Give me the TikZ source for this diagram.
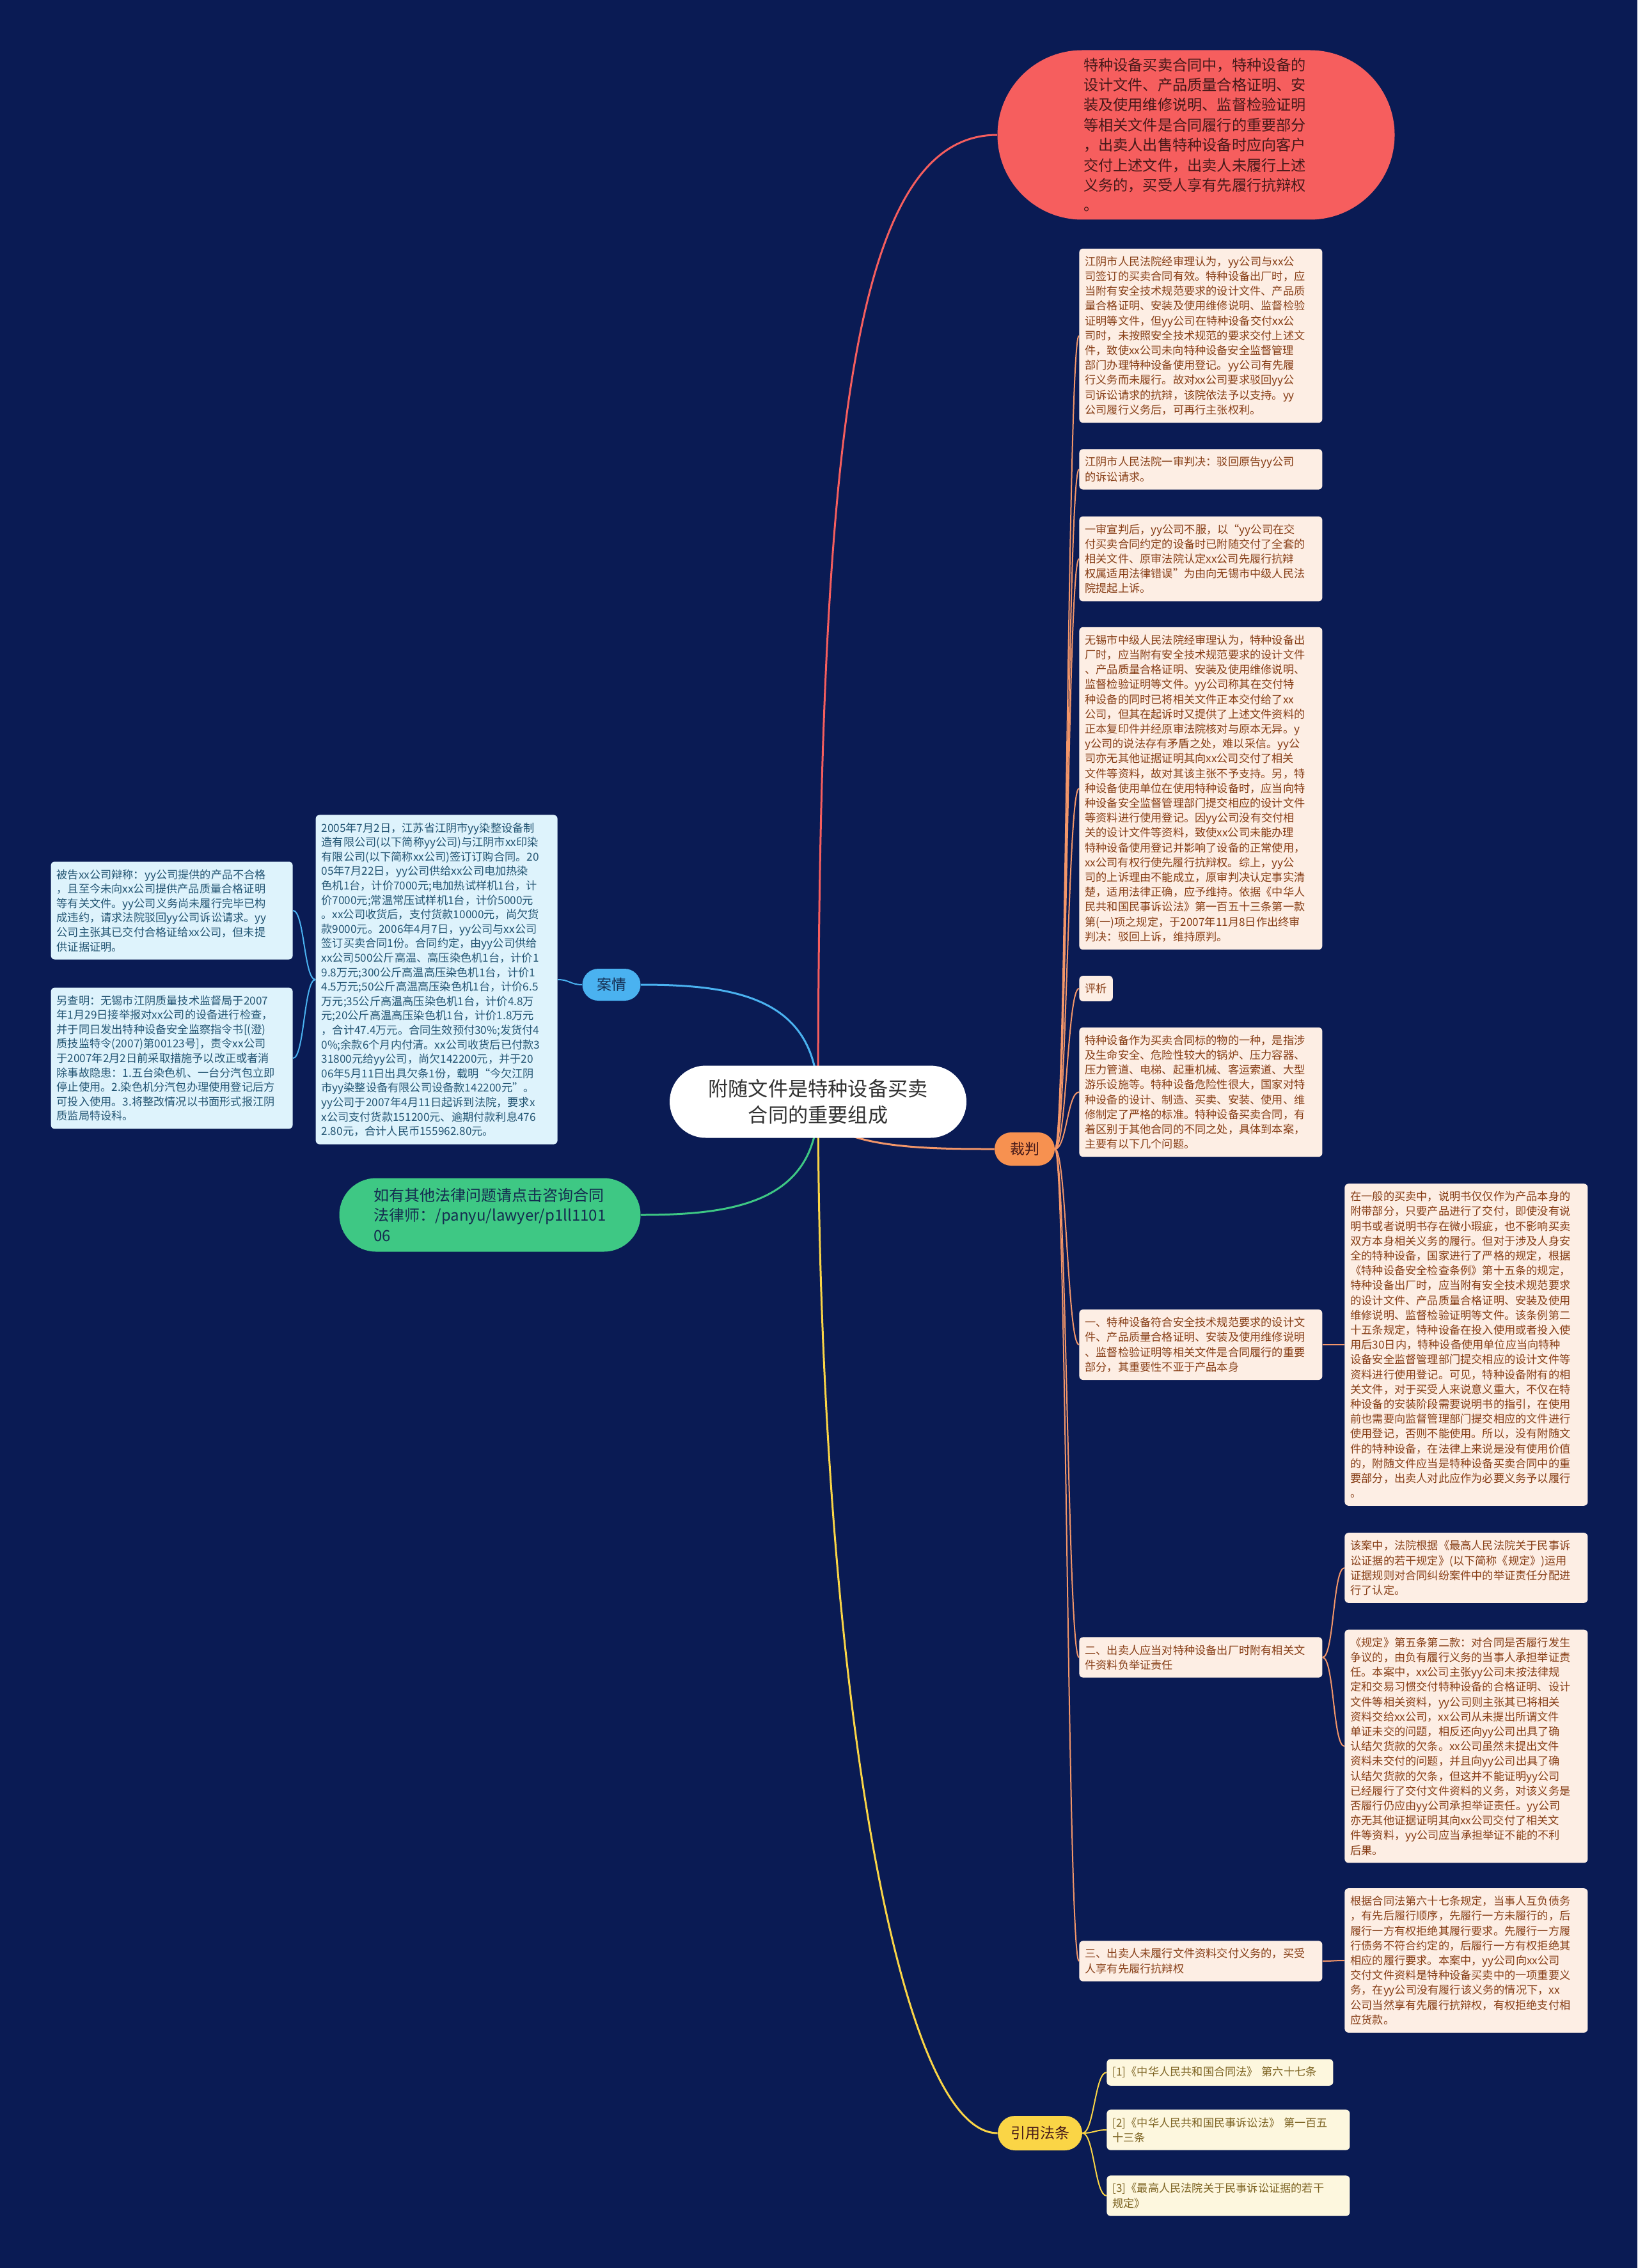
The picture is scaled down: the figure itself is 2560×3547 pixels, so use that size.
\documentclass[tikz,border=0pt]{standalone}
\usepackage{fontspec}
\setmainfont{Noto Sans CJK SC}
\usetikzlibrary{shapes.misc}
\definecolor{bgnavy}{RGB}{10,27,84}
\definecolor{topred}{RGB}{246,94,94}
\definecolor{toptext}{RGB}{70,25,25}
\definecolor{roottext}{RGB}{50,50,50}
\definecolor{casepill}{RGB}{74,178,240}
\definecolor{judgepill}{RGB}{247,145,80}
\definecolor{lawpill}{RGB}{250,213,70}
\definecolor{greenpill}{RGB}{62,200,132}
\definecolor{greentext}{RGB}{20,45,80}
\definecolor{orangeline}{RGB}{243,150,105}
\definecolor{judgefill}{RGB}{253,238,228}
\definecolor{judgetext}{RGB}{135,62,22}
\definecolor{casefill}{RGB}{222,243,252}
\definecolor{casetext}{RGB}{35,85,115}
\definecolor{lawfill}{RGB}{253,247,222}
\definecolor{lawtext}{RGB}{125,100,35}
\pgfdeclarelayer{back}
\pgfdeclarelayer{lines}
\pgfsetlayers{back,lines,main}

\begin{document}
\begin{tikzpicture}[x=0.5pt,y=-0.5pt,
  pill/.style={rounded rectangle,inner xsep=2pt,inner ysep=2pt},
  tag/.style={pill,font=\fontsize{11.5}{13}\selectfont},
  box/.style={rounded corners=3pt,align=left,inner xsep=4.5pt,inner ysep=6pt},
  judge/.style={box,fill=judgefill,text=judgetext,anchor=west,font=\fontsize{8.6}{11.6}\selectfont},
  judgebox/.style={judge,text width=181pt},
  casebox/.style={box,fill=casefill,text=casetext,text width=180pt,anchor=east,font=\fontsize{8.6}{11.3}\selectfont},
  lawbox/.style={box,fill=lawfill,text=lawtext,anchor=west,text width=181pt,font=\fontsize{8.6}{11.6}\selectfont},
  rlink/.style={to path={.. controls +(18,0) and +(-18,0) .. (\tikztotarget)}},
  llink/.style={to path={.. controls +(-18,0) and +(18,0) .. (\tikztotarget)}}]
\useasboundingbox (0,0) rectangle (2560,3547);
\begin{pgfonlayer}{back}
\fill[bgnavy] (0,0) rectangle (2560,3547);
\end{pgfonlayer}
% Root
\node[pill,fill=white,text=roottext,align=center,font=\fontsize{15.6}{20.4}\selectfont,
  minimum width=236pt,minimum height=56.5pt] (root) at (1279,1723)
  {附随文件是特种设备买卖\\合同的重要组成};
% Top note
\node[pill,fill=topred,text=toptext,text width=176pt,align=left,font=\fontsize{11.6}{15.7}\selectfont,
  minimum width=314.5pt,minimum height=132.5pt] (top) at (1870,211)
  {特种设备买卖合同中，特种设备的\\
  设计文件、产品质量合格证明、安\\
  装及使用维修说明、监督检验证明\\
  等相关文件是合同履行的重要部分\\
  ，出卖人出售特种设备时应向客户\\
  交付上述文件，出卖人未履行上述\\
  义务的，买受人享有先履行抗辩权\\
  。};
% Case
\node[tag,fill=casepill,text=greentext,minimum width=49.5pt,minimum height=25pt] (case) at (956,1540) {案情};
\node[casebox] (c0) at (872,1532)
  {2005年7月2日，江苏省江阴市yy染整设备制\\
  造有限公司(以下简称yy公司)与江阴市xx印染\\
  有限公司(以下简称xx公司)签订订购合同。20\\
  05年7月22日，yy公司供给xx公司电加热染\\
  色机1台，计价7000元;电加热试样机1台，计\\
  价7000元;常温常压试样机1台，计价5000元\\
  。xx公司收货后，支付货款10000元，尚欠货\\
  款9000元。2006年4月7日，yy公司与xx公司\\
  签订买卖合同1份。合同约定，由yy公司供给\\
  xx公司500公斤高温、高压染色机1台，计价1\\
  9.8万元;300公斤高温高压染色机1台，计价1\\
  4.5万元;50公斤高温高压染色机1台，计价6.5\\
  万元;35公斤高温高压染色机1台，计价4.8万\\
  元;20公斤高温高压染色机1台，计价1.8万元\\
  ，合计47.4万元。合同生效预付30\%;发货付4\\
  0\%;余款6个月内付清。xx公司收货后已付款3\\
  31800元给yy公司，尚欠142200元，并于20\\
  06年5月11日出具欠条1份，载明“今欠江阴\\
  市yy染整设备有限公司设备款142200元”。\\
  yy公司于2007年4月11日起诉到法院，要求x\\
  x公司支付货款151200元、逾期付款利息476\\
  2.80元，合计人民币155962.80元。};
\node[casebox] (c1) at (458,1424)
  {被告xx公司辩称：yy公司提供的产品不合格\\
  ，且至今未向xx公司提供产品质量合格证明\\
  等有关文件。yy公司义务尚未履行完毕已构\\
  成违约，请求法院驳回yy公司诉讼请求。yy\\
  公司主张其已交付合格证给xx公司，但未提\\
  供证据证明。};
\node[casebox] (c2) at (458,1655)
  {另查明：无锡市江阴质量技术监督局于2007\\
  年1月29日接举报对xx公司的设备进行检查，\\
  并于同日发出特种设备安全监察指令书{[}(澄)\\
  质技监特令(2007)第00123号{]}，责令xx公司\\
  于2007年2月2日前采取措施予以改正或者消\\
  除事故隐患：1.五台染色机、一台分汽包立即\\
  停止使用。2.染色机分汽包办理使用登记后方\\
  可投入使用。3.将整改情况以书面形式报江阴\\
  质监局特设科。};
% Lawyer link
\node[pill,fill=greenpill,text=greentext,align=left,font=\fontsize{12}{15.8}\selectfont,
  minimum width=239.5pt,minimum height=57.5pt] (lawyer) at (766,1900)
  {如有其他法律问题请点击咨询合同\\法律师：/panyu/lawyer/p1ll1101\\06};
% Judgement
\node[tag,fill=judgepill,text=toptext,minimum width=51pt,minimum height=26pt] (judgeroot) at (1602,1797) {裁判};
\node[judgebox] (j1) at (1687,525)
  {江阴市人民法院经审理认为，yy公司与xx公\\
  司签订的买卖合同有效。特种设备出厂时，应\\
  当附有安全技术规范要求的设计文件、产品质\\
  量合格证明、安装及使用维修说明、监督检验\\
  证明等文件，但yy公司在特种设备交付xx公\\
  司时，未按照安全技术规范的要求交付上述文\\
  件，致使xx公司未向特种设备安全监督管理\\
  部门办理特种设备使用登记。yy公司有先履\\
  行义务而未履行。故对xx公司要求驳回yy公\\
  司诉讼请求的抗辩，该院依法予以支持。yy\\
  公司履行义务后，可再行主张权利。};
\node[judgebox] (j2) at (1687,734)
  {江阴市人民法院一审判决：驳回原告yy公司\\
  的诉讼请求。};
\node[judgebox] (j3) at (1687,874)
  {一审宣判后，yy公司不服，以“yy公司在交\\
  付买卖合同约定的设备时已附随交付了全套的\\
  相关文件、原审法院认定xx公司先履行抗辩\\
  权属适用法律错误”为由向无锡市中级人民法\\
  院提起上诉。};
\node[judgebox] (j4) at (1687,1233)
  {无锡市中级人民法院经审理认为，特种设备出\\
  厂时，应当附有安全技术规范要求的设计文件\\
  、产品质量合格证明、安装及使用维修说明、\\
  监督检验证明等文件。yy公司称其在交付特\\
  种设备的同时已将相关文件正本交付给了xx\\
  公司，但其在起诉时又提供了上述文件资料的\\
  正本复印件并经原审法院核对与原本无异。y\\
  y公司的说法存有矛盾之处，难以采信。yy公\\
  司亦无其他证据证明其向xx公司交付了相关\\
  文件等资料，故对其该主张不予支持。另，特\\
  种设备使用单位在使用特种设备时，应当向特\\
  种设备安全监督管理部门提交相应的设计文件\\
  等资料进行使用登记。因yy公司没有交付相\\
  关的设计文件等资料，致使xx公司未能办理\\
  特种设备使用登记并影响了设备的正常使用，\\
  xx公司有权行使先履行抗辩权。综上，yy公\\
  司的上诉理由不能成立，原审判决认定事实清\\
  楚，适用法律正确，应予维持。依据《中华人\\
  民共和国民事诉讼法》第一百五十三条第一款\\
  第(一)项之规定，于2007年11月8日作出终审\\
  判决：驳回上诉，维持原判。};
\node[judge] (j5) at (1687,1546) {评析};
\node[judgebox] (j6) at (1687,1708)
  {特种设备作为买卖合同标的物的一种，是指涉\\
  及生命安全、危险性较大的锅炉、压力容器、\\
  压力管道、电梯、起重机械、客运索道、大型\\
  游乐设施等。特种设备危险性很大，国家对特\\
  种设备的设计、制造、买卖、安装、使用、维\\
  修制定了严格的标准。特种设备买卖合同，有\\
  着区别于其他合同的不同之处，具体到本案，\\
  主要有以下几个问题。};
\node[judgebox] (j7) at (1687,2103)
  {一、特种设备符合安全技术规范要求的设计文\\
  件、产品质量合格证明、安装及使用维修说明\\
  、监督检验证明等相关文件是合同履行的重要\\
  部分，其重要性不亚于产品本身};
\node[judgebox] (j8) at (1687,2592)
  {二、出卖人应当对特种设备出厂时附有相关文\\
  件资料负举证责任};
\node[judgebox] (j9) at (1687,3067)
  {三、出卖人未履行文件资料交付义务的，买受\\
  人享有先履行抗辩权};
\node[judgebox] (g1) at (2102,2103)
  {在一般的买卖中，说明书仅仅作为产品本身的\\
  附带部分，只要产品进行了交付，即使没有说\\
  明书或者说明书存在微小瑕疵，也不影响买卖\\
  双方本身相关义务的履行。但对于涉及人身安\\
  全的特种设备，国家进行了严格的规定，根据\\
  《特种设备安全检查条例》第十五条的规定，\\
  特种设备出厂时，应当附有安全技术规范要求\\
  的设计文件、产品质量合格证明、安装及使用\\
  维修说明、监督检验证明等文件。该条例第二\\
  十五条规定，特种设备在投入使用或者投入使\\
  用后30日内，特种设备使用单位应当向特种\\
  设备安全监督管理部门提交相应的设计文件等\\
  资料进行使用登记。可见，特种设备附有的相\\
  关文件，对于买受人来说意义重大，不仅在特\\
  种设备的安装阶段需要说明书的指引，在使用\\
  前也需要向监督管理部门提交相应的文件进行\\
  使用登记，否则不能使用。所以，没有附随文\\
  件的特种设备，在法律上来说是没有使用价值\\
  的，附随文件应当是特种设备买卖合同中的重\\
  要部分，出卖人对此应作为必要义务予以履行\\
  。};
\node[judgebox] (g2) at (2102,2452)
  {该案中，法院根据《最高人民法院关于民事诉\\
  讼证据的若干规定》(以下简称《规定》)运用\\
  证据规则对合同纠纷案件中的举证责任分配进\\
  行了认定。};
\node[judgebox] (g3) at (2102,2731)
  {《规定》第五条第二款：对合同是否履行发生\\
  争议的，由负有履行义务的当事人承担举证责\\
  任。本案中，xx公司主张yy公司未按法律规\\
  定和交易习惯交付特种设备的合格证明、设计\\
  文件等相关资料，yy公司则主张其已将相关\\
  资料交给xx公司，xx公司从未提出所谓文件\\
  单证未交的问题，相反还向yy公司出具了确\\
  认结欠货款的欠条。xx公司虽然未提出文件\\
  资料未交付的问题，并且向yy公司出具了确\\
  认结欠货款的欠条，但这并不能证明yy公司\\
  已经履行了交付文件资料的义务，对该义务是\\
  否履行仍应由yy公司承担举证责任。yy公司\\
  亦无其他证据证明其向xx公司交付了相关文\\
  件等资料，yy公司应当承担举证不能的不利\\
  后果。};
\node[judgebox] (g4) at (2102,3066)
  {根据合同法第六十七条规定，当事人互负债务\\
  ，有先后履行顺序，先履行一方未履行的，后\\
  履行一方有权拒绝其履行要求。先履行一方履\\
  行债务不符合约定的，后履行一方有权拒绝其\\
  相应的履行要求。本案中，yy公司向xx公司\\
  交付文件资料是特种设备买卖中的一项重要义\\
  务，在yy公司没有履行该义务的情况下，xx\\
  公司当然享有先履行抗辩权，有权拒绝支付相\\
  应货款。};
% Cited laws
\node[tag,fill=lawpill,text=toptext,minimum width=70pt,minimum height=27pt] (lawroot) at (1626,3336) {引用法条};
\node[lawbox,text width=168pt] (law1) at (1730,3241) {[1]《中华人民共和国合同法》 第六十七条};
\node[lawbox] (law2) at (1730,3331) {[2]《中华人民共和国民事诉讼法》 第一百五\\十三条};
\node[lawbox] (law3) at (1730,3434) {[3]《最高人民法院关于民事诉讼证据的若干\\规定》};
% Connectors
\begin{pgfonlayer}{lines}
\draw[topred,line width=1.5pt] (root.center) .. controls (1280,700) and (1330,211) .. (top.west);
\draw[casepill,line width=1.5pt] (root.center) .. controls (1280,1560) and (1150,1540) .. (case.east);
\draw[greenpill,line width=1.5pt] (root.center) .. controls (1280,1880) and (1150,1900) .. (lawyer.east);
\draw[orangeline,line width=1.5pt] (root.center) .. controls (1280,1797) and (1450,1797) .. (judgeroot.west);
\draw[lawpill,line width=1.5pt] (root.center) .. controls (1280,2600) and (1400,3336) .. (lawroot.west);
% case branch
\draw[casepill,line width=1pt] (case.west) to[llink] (c0.east);
\draw[casepill,line width=1pt] (c0.west) to[llink] (c1.east);
\draw[casepill,line width=1pt] (c0.west) to[llink] (c2.east);
% judgement branch
\draw[orangeline,line width=1pt] (judgeroot.east) to[rlink] (j1.west);
\draw[orangeline,line width=1pt] (judgeroot.east) to[rlink] (j2.west);
\draw[orangeline,line width=1pt] (judgeroot.east) to[rlink] (j3.west);
\draw[orangeline,line width=1pt] (judgeroot.east) to[rlink] (j4.west);
\draw[orangeline,line width=1pt] (judgeroot.east) to[rlink] (j5.west);
\draw[orangeline,line width=1pt] (judgeroot.east) to[rlink] (j6.west);
\draw[orangeline,line width=1pt] (judgeroot.east) to[rlink] (j7.west);
\draw[orangeline,line width=1pt] (judgeroot.east) to[rlink] (j8.west);
\draw[orangeline,line width=1pt] (judgeroot.east) to[rlink] (j9.west);
\draw[orangeline,line width=1pt] (j7.east) to[rlink] (g1.west);
\draw[orangeline,line width=1pt] (j8.east) to[rlink] (g2.west);
\draw[orangeline,line width=1pt] (j8.east) to[rlink] (g3.west);
\draw[orangeline,line width=1pt] (j9.east) to[rlink] (g4.west);
% law branch
\draw[lawpill,line width=1pt] (lawroot.east) to[rlink] (law1.west);
\draw[lawpill,line width=1pt] (lawroot.east) to[rlink] (law2.west);
\draw[lawpill,line width=1pt] (lawroot.east) to[rlink] (law3.west);
\end{pgfonlayer}
\end{tikzpicture}
\end{document}
